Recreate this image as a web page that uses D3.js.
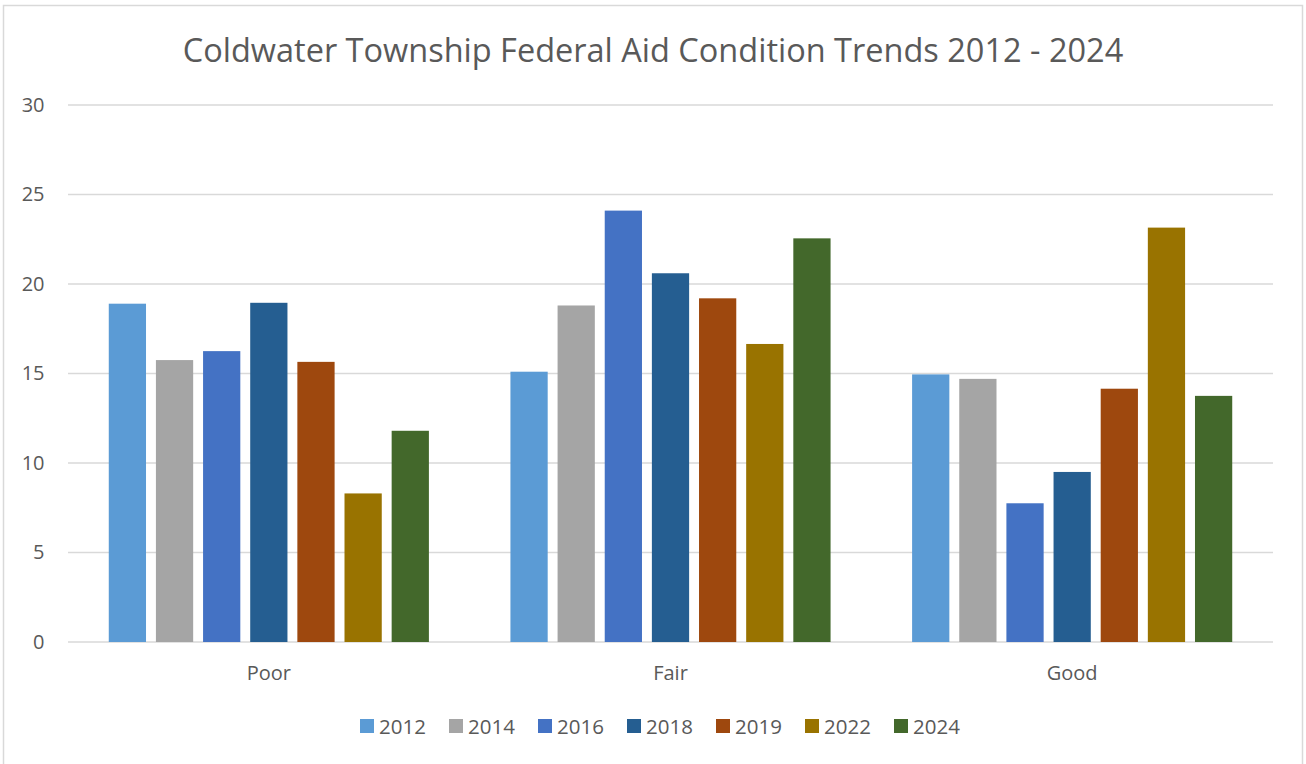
<!DOCTYPE html>
<html><head><meta charset="utf-8">
<script src="https://cdn.jsdelivr.net/npm/d3@7"></script>
<style>body{margin:0;background:#fff;} svg{display:block;font-family:"Open Sans","Liberation Sans",sans-serif;}</style>
</head><body><svg id="c" width="1306" height="764"></svg>
<script>
const categories = ["Poor", "Fair", "Good"];
const years = ["2012", "2014", "2016", "2018", "2019", "2022", "2024"];
const colors = ["#5b9bd5", "#a5a5a5", "#4472c4", "#255e91", "#9e480e", "#997300", "#43682b"];
const v2012 = [18.9, 15.1, 14.95];
const v2014 = [15.75, 18.8, 14.7];
const v2016 = [16.25, 24.1, 7.75];
const v2018 = [18.95, 20.6, 9.5];
const v2019 = [15.65, 19.2, 14.15];
const v2022 = [8.3, 16.65, 23.15];
const v2024 = [11.8, 22.55, 13.75];
const series = [v2012, v2014, v2016, v2018, v2019, v2022, v2024];
const yTicks = [0, 5, 10, 15, 20, 25, 30];
const title = "Coldwater Township Federal Aid Condition Trends 2012 - 2024";

const FONT = '"Open Sans","Liberation Sans",sans-serif';
const svg = d3.select("#c");
svg.append("rect").attr("x", 3.5).attr("y", 5.5).attr("width", 1299).attr("height", 770)
  .attr("fill", "#fff").attr("stroke", "#d9d9d9").attr("stroke-width", 1.5);

const L = 68, R = 1273, T = 105, B = 642;
const x0 = d3.scaleBand().domain(categories).range([L, R]).paddingInner(0.203).paddingOuter(0.1015);
const x1 = d3.scaleBand().domain(years).range([0, x0.bandwidth()]).paddingInner(0.21).paddingOuter(0);
const y = d3.scaleLinear().domain([0, 30]).range([B, T]);

const grid = svg.append("g");
grid.selectAll("line").data(yTicks).join("line")
  .attr("x1", L).attr("x2", R).attr("y1", d => y(d)).attr("y2", d => y(d))
  .attr("stroke", "#d9d9d9").attr("stroke-width", 1.5);

const yAxis = svg.append("g").attr("transform", `translate(${L},0)`)
  .call(d3.axisLeft(y).tickValues(yTicks).tickSize(0).tickPadding(23.5));
yAxis.select(".domain").remove();
yAxis.selectAll("text").attr("font-size", 20).attr("fill", "#595959").attr("font-family", FONT);

const xAxis = svg.append("g").attr("transform", `translate(0,${B})`)
  .call(d3.axisBottom(x0).tickSize(0).tickPadding(24));
xAxis.select(".domain").remove();
xAxis.selectAll("text").attr("font-size", 20).attr("fill", "#595959").attr("font-family", FONT);

const bars = svg.append("g");
series.forEach((vals, si) => {
  bars.append("g").selectAll("rect").data(categories.map((c, i) => ({c, v: vals[i]}))).join("rect")
    .attr("x", d => x0(d.c) + x1(years[si]))
    .attr("y", d => y(d.v))
    .attr("width", x1.bandwidth())
    .attr("height", d => B - y(d.v))
    .attr("fill", colors[si]);
});

svg.append("text").attr("x", 653).attr("y", 62).attr("text-anchor", "middle")
  .attr("font-size", 32.5).attr("fill", "#595959").text(title);

const leg = svg.append("g");
const legStep = 89, legStart = 360;
years.forEach((yr, i) => {
  const gx = legStart + i * legStep;
  leg.append("rect").attr("x", gx).attr("y", 719).attr("width", 14).attr("height", 14).attr("fill", colors[i]);
  leg.append("text").attr("x", gx + 19).attr("y", 733.5).attr("font-size", 20.5).attr("fill", "#595959").text(yr);
});
</script></body></html>
